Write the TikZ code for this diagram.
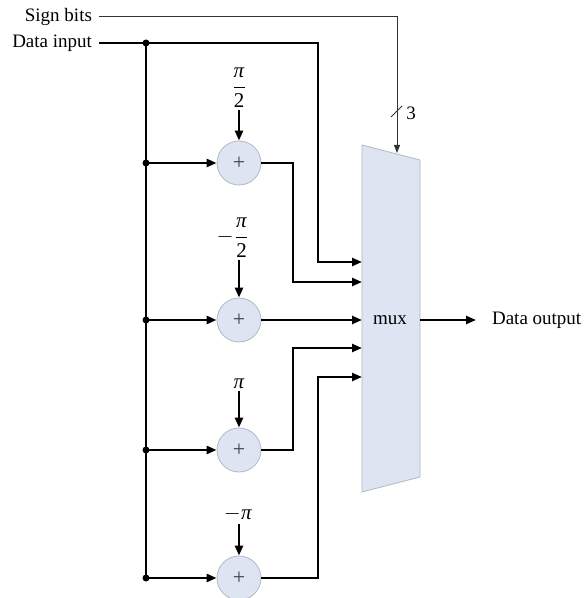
\documentclass[tikz,border=0pt]{standalone}
\usepackage{amsmath}
\usepackage{fontspec}
\setmainfont{Liberation Serif}
\usetikzlibrary{arrows.meta, positioning}
\definecolor{muxblue}{HTML}{DDE4F2}
\definecolor{edgegray}{HTML}{B4B8C0}
\newcommand{\pii}{\text{\textit{π}}}

\begin{document}
\begin{tikzpicture}[x=0.5pt, y=-0.5pt, >={Triangle[length=5pt,width=4pt]},
    font=\fontsize{9.5}{11}\selectfont,
    adder/.style={draw=edgegray, fill=muxblue, circle, minimum size=22pt, inner sep=0pt,
        font=\fontsize{11}{13}\selectfont, text=black!75},
    const/.style={inner sep=1pt, font=\fontsize{10.5}{12}\selectfont},
    bus/.style={line width=1.2pt},
    dot/.style={circle, fill=black, inner sep=0pt, minimum size=3.5pt}]
    \useasboundingbox (0,0) rectangle (584,598);

    % the mux block
    \coordinate (MTL) at (362,145);
    \coordinate (MTR) at (420,160);
    \coordinate (MBR) at (420,477);
    \coordinate (MBL) at (362,492);
    \draw[edgegray, fill=muxblue] (MTL) -- (MTR) -- (MBR) -- (MBL) -- cycle;
    \node (mux) at (390,320) {mux};
    \coordinate (M1) at (362,262);
    \coordinate (M2) at (362,282);
    \coordinate (M3) at (362,320);
    \coordinate (M4) at (362,348);
    \coordinate (M5) at (362,377);
    \coordinate (MO) at (420,320);
    \coordinate (sel) at (397,153);

    % inputs
    \node[anchor=east] (sign) at (99,17) {Sign bits};
    \node[anchor=east] (din) at (99,43) {Data input};
    \draw[line width=0.5pt, black!80, ->, >={Triangle[length=4pt,width=3pt]}] (sign.east) -| (sel);
    \draw[line width=0.5pt, black!80] (391,117) -- (402,106);
    \node (width) at (411,113) {3};

    % adders and their constants
    \node[adder] (A1) at (239,163) {+};
    \node[adder] (A2) at (239,320) {+};
    \node[adder] (A3) at (239,450) {+};
    \node[adder] (A4) at (239,578) {+};
    \node[const] (c1) at (239,88) {$\dfrac{\pii}{\text{2}}$};
    \node[const] (c2) at (233,238) {$-\dfrac{\pii}{\text{2}}$};
    \node[const] (c3) at (239,384) {\textit{π}};
    \node[const] (c4) at (238,514) {$-$\textit{π}};
    \draw[bus,->] (c1) -- (A1);
    \draw[bus,->] (A2 |- c2.south) -- (A2);
    \draw[bus,->] (c3) -- (A3);
    \draw[bus,->] (A4 |- c4.south) -- (A4);

    % data input bus
    \coordinate (J0) at (146,43);
    \coordinate (J1) at (146,163);
    \coordinate (J2) at (146,320);
    \coordinate (J3) at (146,450);
    \coordinate (J4) at (146,578);
    \draw[bus] (din.east) -- (J0);
    \draw[bus] (J0) -- (J4);
    \draw[bus,->] (J0) -- (318,43) -- (318,262) -- (M1);
    \draw[bus,->] (J1) -- (A1);
    \draw[bus,->] (J2) -- (A2);
    \draw[bus,->] (J3) -- (A3);
    \draw[bus,->] (J4) -- (A4);
    \foreach \j in {J0,J1,J2,J3,J4}
        \node[dot] at (\j) {};

    % adder outputs
    \draw[bus,->] (A1) -- (293,163) -- (293,282) -- (M2);
    \draw[bus,->] (A2) -- (M3);
    \draw[bus,->] (A3) -- (293,450) -- (293,348) -- (M4);
    \draw[bus,->] (A4) -- (318,578) -- (318,377) -- (M5);

    % output
    \node[anchor=west] (dout) at (485,320) {Data output};
    \draw[bus,->,shorten >=4.5pt] (MO) -- (dout);
\end{tikzpicture}
\end{document}
